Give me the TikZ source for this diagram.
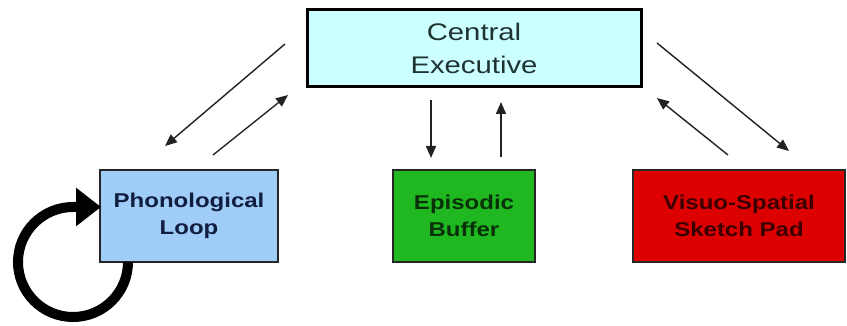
\documentclass[tikz,border=0pt]{standalone}
\usepackage{fontspec}
\usetikzlibrary{arrows.meta}
\newfontfamily\cefont{Liberation Sans}[FakeStretch=1.22]
\newfontfamily\bxfont{Liberation Sans}[FakeStretch=1.2]
\definecolor{cefill}{HTML}{CCFFFF}
\definecolor{plfill}{HTML}{A0CCF8}
\definecolor{ebfill}{HTML}{20B820}
\definecolor{vsfill}{HTML}{DD0000}
\definecolor{cetext}{HTML}{1F3333}
\definecolor{pltext}{HTML}{101E40}
\definecolor{ebtext}{HTML}{0A300A}
\definecolor{vstext}{HTML}{3A0000}
\definecolor{arrowc}{HTML}{222222}
\begin{document}
\begin{tikzpicture}[x=1pt,y=-1pt,
  cebox/.style={draw=black, line width=3pt, fill=cefill, minimum width=334pt, minimum height=77pt,
    inner sep=0pt, align=center, text=cetext, font=\cefont\fontsize{24}{33}\selectfont},
  subbox/.style={draw=black!85, line width=1.3pt, minimum height=92pt, inner sep=0pt, align=center,
    font=\bxfont\bfseries\fontsize{20}{27}\selectfont},
  link/.style={draw=arrowc, line width=1.4pt, -{Triangle[length=12pt,width=10pt]}},
  loopline/.style={draw=black, line width=10pt, -{Triangle[length=25pt,width=37pt]}}]
\useasboundingbox (0,0) rectangle (847,326);
\fill[white] (0,0) rectangle (847,326);

\node[cebox] (ce) at (474,48.5) {Central\\Executive};
\node[subbox, fill=plfill, text=pltext, minimum width=178pt] (pl) at (189,216) {Phonological\\Loop};
\node[subbox, fill=ebfill, text=ebtext, minimum width=142pt] (eb) at (464,216) {Episodic\\Buffer};
\node[subbox, fill=vsfill, text=vstext, minimum width=212pt] (vs) at (739,216) {Visuo-Spatial\\Sketch Pad};

% arrow end points
\coordinate (a1s) at (285,44);  \coordinate (a1e) at (165,146);
\coordinate (a2s) at (213,155); \coordinate (a2e) at (288,95);
\coordinate (b1s) at (431,100); \coordinate (b1e) at (431,158);
\coordinate (b2s) at (501,157); \coordinate (b2e) at (501,102);
\coordinate (c1s) at (657,43);  \coordinate (c1e) at (789,151);
\coordinate (c2s) at (728,155); \coordinate (c2e) at (657,98);

\draw[link] (a1s) -- (a1e);
\draw[link] (a2s) -- (a2e);
\draw[link] (b1s) -- (b1e);
\draw[link] (b2s) -- (b2e);
\draw[link] (c1s) -- (c1e);
\draw[link] (c2s) -- (c2e);

% rehearsal loop
\coordinate (ls) at (128,262);
\coordinate (le) at (101,207);
\draw[loopline] (ls) arc[start angle=0, end angle=270, radius=55] -- (le);
\end{tikzpicture}
\end{document}
